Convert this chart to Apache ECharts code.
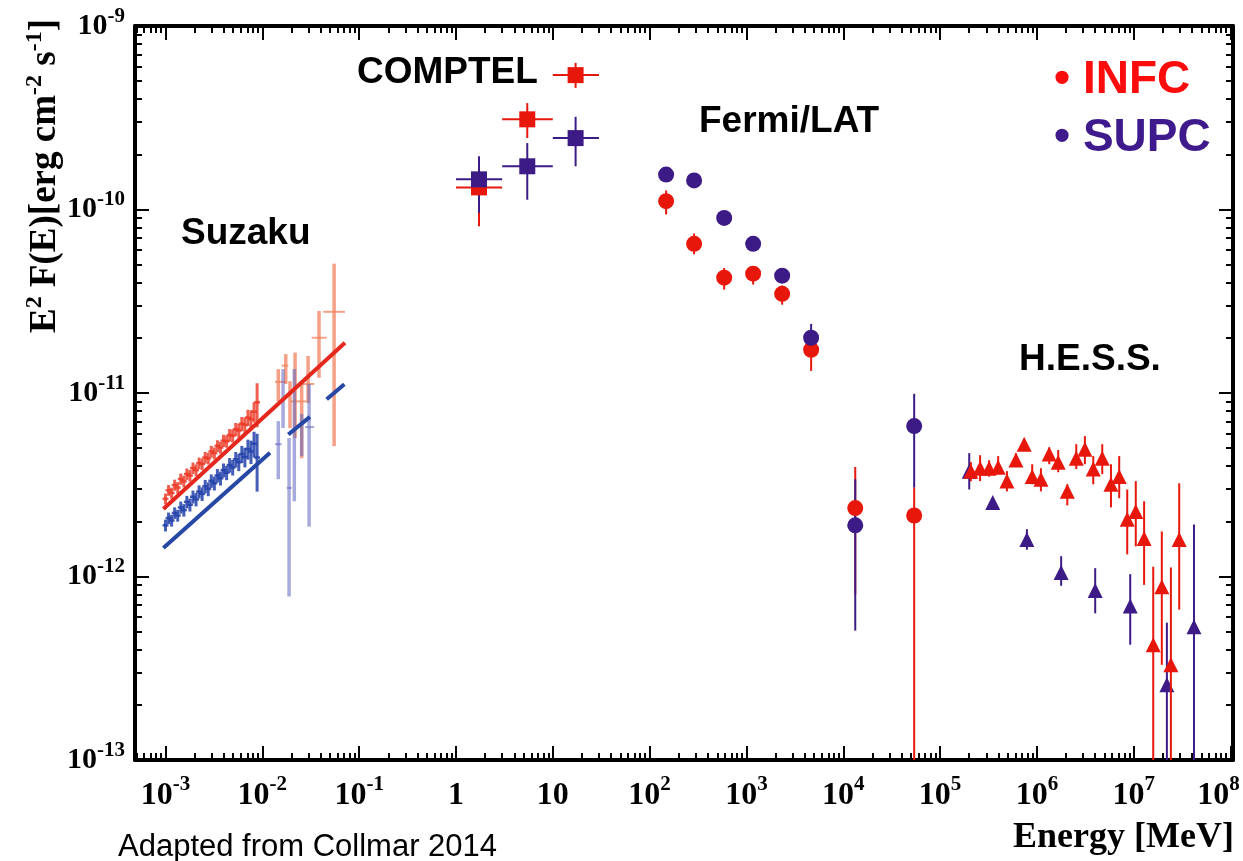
<!DOCTYPE html>
<html><head><meta charset="utf-8">
<script src="https://cdn.jsdelivr.net/npm/echarts@6/dist/echarts.min.js"></script>
<style>html,body{margin:0;padding:0;background:#fff}#c{width:1243px;height:861px}</style>
</head><body><div id="c"></div>
<script>
// ---------------- axes ----------------
const xTickValues = [1e-3, 1e-2, 1e-1, 1, 10, 100, 1e3, 1e4, 1e5, 1e6, 1e7, 1e8];
const xTickLabels = ['10^-3', '10^-2', '10^-1', '1', '10', '10^2', '10^3', '10^4', '10^5', '10^6', '10^7', '10^8'];
const yTickValues = [1e-13, 1e-12, 1e-11, 1e-10, 1e-9];
const yTickLabels = ['10^-13', '10^-12', '10^-11', '10^-10', '10^-9'];

// ---------------- Suzaku XIS (1-9 keV) ----------------
const xisE = [1.000e-3, 1.075e-3, 1.156e-3, 1.243e-3, 1.337e-3, 1.438e-3, 1.546e-3, 1.662e-3, 1.787e-3, 1.922e-3,
  2.067e-3, 2.222e-3, 2.390e-3, 2.570e-3, 2.763e-3, 2.971e-3, 3.195e-3, 3.436e-3, 3.694e-3, 3.972e-3,
  4.272e-3, 4.593e-3, 4.939e-3, 5.311e-3, 5.711e-3, 6.141e-3, 6.603e-3, 7.100e-3, 7.635e-3, 8.210e-3, 8.830e-3];
const xisInfc = [2.65, 2.95, 2.85, 3.15, 3.05, 3.40, 3.30, 3.62, 3.55, 3.90, 3.80, 4.15, 4.10, 4.45, 4.40, 4.80,
  4.70, 5.15, 5.05, 5.50, 5.45, 5.90, 5.85, 6.35, 6.25, 6.80, 6.70, 7.35, 7.20, 7.90, 8.90].map(v => v * 1e-12);
const xisInfcErr = [0.18, 0.2, 0.2, 0.22, 0.22, 0.24, 0.24, 0.26, 0.26, 0.28, 0.28, 0.3, 0.3, 0.32, 0.32, 0.35,
  0.35, 0.38, 0.38, 0.42, 0.42, 0.46, 0.48, 0.52, 0.55, 0.6, 0.65, 0.75, 0.85, 1.0, 2.4].map(v => v * 1e-12);
const xisSupc = [1.90, 2.08, 2.02, 2.22, 2.15, 2.38, 2.30, 2.55, 2.46, 2.72, 2.63, 2.90, 2.82, 3.10, 3.00, 3.32,
  3.22, 3.55, 3.43, 3.80, 3.68, 4.05, 3.93, 4.35, 4.20, 4.65, 4.48, 4.95, 4.80, 5.30, 4.45].map(v => v * 1e-12);
const xisSupcErr = [0.14, 0.15, 0.15, 0.16, 0.16, 0.18, 0.18, 0.2, 0.2, 0.22, 0.22, 0.24, 0.24, 0.26, 0.26, 0.28,
  0.28, 0.3, 0.3, 0.33, 0.33, 0.37, 0.38, 0.42, 0.45, 0.5, 0.55, 0.62, 0.7, 0.85, 1.55].map(v => v * 1e-12);

// ---------------- Suzaku HXD/PIN ----------------
const pinInfcE   = [0.01462, 0.01745, 0.0193, 0.0218, 0.0255, 0.0297, 0.0385, 0.0551];
const pinInfcElo = [0.01352, 0.01585, 0.0193, 0.01932, 0.0255, 0.0255, 0.0323, 0.0426];
const pinInfcEhi = [0.01786, 0.01855, 0.0193, 0.0287, 0.0255, 0.0344, 0.0462, 0.0714];
const pinInfcF   = [1.15e-11, 1.41e-11, 9.0e-12, 9.0e-12, 7.03e-12, 1.12e-11, 2.0e-11, 2.77e-11];
const pinInfcFlo = [9.0e-12, 1.12e-11, 6.44e-12, 5.68e-12, 4.41e-12, 8.81e-12, 1.21e-11, 5.13e-12];
const pinInfcFhi = [1.35e-11, 1.63e-11, 1.16e-11, 1.66e-11, 1.12e-11, 1.59e-11, 2.8e-11, 5.07e-11];
const pinSupcE   = [0.01462, 0.01637, 0.01888, 0.0214, 0.0255, 0.0304];
const pinSupcElo = [0.01352, 0.01637, 0.01786, 0.0214, 0.0255, 0.0276];
const pinSupcEhi = [0.01585, 0.01637, 0.0201, 0.0214, 0.0255, 0.0344];
const pinSupcF   = [5.26e-12, 9.64e-12, 3.04e-12, 7.03e-12, 6.44e-12, 6.52e-12];
const pinSupcFlo = [3.39e-12, 6.44e-12, 7.78e-13, 2.57e-12, 4.53e-12, 1.87e-12];
const pinSupcFhi = [7.03e-12, 1.35e-11, 5.68e-12, 1.35e-11, 7.67e-12, 1.12e-11];

// ---------------- Suzaku model (power laws) ----------------
const modelInfcE = [9.5e-4, 0.0714];
const modelInfcF = [2.33e-12, 1.88e-11];
const modelSupcE = [9.5e-4, 0.0120, null, 0.01854, 0.0310, null, 0.0462, 0.0703];
const modelSupcF = [1.43e-12, 4.72e-12, null, 5.94e-12, 7.41e-12, null, 9.25e-12, 1.115e-11];

// ---------------- COMPTEL ----------------
const comptelE   = [1.73, 5.45, 17.2];
const comptelElo = [1.0, 3.0, 10.0];
const comptelEhi = [3.0, 10.0, 30.0];
const comptelInfc   = [1.32e-10, 3.1e-10, 5.4e-10];
const comptelInfcLo = [8.1e-11, 2.45e-10, 4.6e-10];
const comptelInfcHi = [1.8e-10, 3.8e-10, 6.3e-10];
const comptelSupc   = [1.46e-10, 1.72e-10, 2.45e-10];
const comptelSupcLo = [9.6e-11, 1.13e-10, 1.72e-10];
const comptelSupcHi = [1.95e-10, 2.3e-10, 3.2e-10];

// ---------------- Fermi/LAT ----------------
const fermiE = [148, 288, 589, 1173, 2338, 4656, 1.33e4, 5.4e4];
const fermiInfc   = [1.11e-10, 6.5e-11, 4.25e-11, 4.47e-11, 3.47e-11, 1.72e-11, 2.36e-12, 2.15e-12];
const fermiInfcLo = [9.4e-11, 5.7e-11, 3.66e-11, 3.9e-11, 3.03e-11, 1.32e-11, 8.0e-13, 1e-15];
const fermiInfcHi = [1.27e-10, 7.4e-11, 4.8e-11, 4.9e-11, 3.85e-11, 1.92e-11, 3.95e-12, 3.06e-12];
const fermiSupc   = [1.55e-10, 1.44e-10, 9.0e-11, 6.5e-11, 4.36e-11, 2.0e-11, 1.9e-12, 6.6e-12];
const fermiSupcLo = [1.5e-10, 1.39e-10, 8.6e-11, 6.2e-11, 4.15e-11, 1.7e-11, 5.07e-13, 3.06e-12];
const fermiSupcHi = [1.6e-10, 1.49e-10, 9.4e-11, 6.8e-11, 4.55e-11, 2.38e-11, 3.39e-12, 9.9e-12];

// ---------------- H.E.S.S. ----------------
const hessInfcE = [2.08e5, 2.59e5, 3.21e5, 3.98e5, 4.90e5, 6.07e5, 7.39e5, 8.94e5, 1.10e6, 1.34e6, 1.66e6, 2.06e6,
  2.55e6, 3.13e6, 3.82e6, 4.73e6, 5.82e6, 7.08e6, 8.57e6, 1.05e7, 1.28e7, 1.59e7, 1.95e7, 2.42e7, 2.95e7];
const hessInfcF = [3.75e-12, 3.89e-12, 3.89e-12, 3.94e-12, 3.31e-12, 4.31e-12, 5.26e-12, 3.51e-12, 3.39e-12, 4.65e-12,
  4.2e-12, 2.91e-12, 4.41e-12, 4.94e-12, 3.85e-12, 4.41e-12, 3.18e-12, 3.51e-12, 2.05e-12, 2.26e-12, 1.61e-12,
  4.25e-13, 8.8e-13, 3.3e-13, 1.59e-12];
const hessInfcLo = [3.3e-12, 3.31e-12, 3.5e-12, 3.61e-12, 2.91e-12, 4.04e-12, 5.0e-12, 3.18e-12, 2.91e-12, 4.09e-12,
  3.7e-12, 2.44e-12, 3.85e-12, 4.09e-12, 3.18e-12, 3.61e-12, 2.38e-12, 2.67e-12, 1.32e-12, 1.46e-12, 9.0e-13,
  1e-15, 3.3e-13, 1e-15, 6.6e-13];
const hessInfcHi = [4.2e-12, 4.58e-12, 4.3e-12, 4.53e-12, 3.75e-12, 4.7e-12, 5.5e-12, 4.09e-12, 3.89e-12, 5.05e-12,
  4.89e-12, 3.18e-12, 5.26e-12, 5.82e-12, 4.53e-12, 5.26e-12, 4.09e-12, 4.53e-12, 2.98e-12, 3.31e-12, 2.57e-12,
  1.13e-12, 1.76e-12, 1.12e-12, 3.22e-12];
const hessSupcE  = [2.0e5, 3.5e5, 7.88e5, 1.78e6, 4.0e6, 9.2e6, 2.2e7, 4.19e7];
const hessSupcF  = [3.75e-12, 2.53e-12, 1.59e-12, 1.05e-12, 8.4e-13, 6.9e-13, 2.57e-13, 5.33e-13];
const hessSupcLo = [2.98e-12, 2.45e-12, 1.40e-12, 8.9e-13, 6.3e-13, 4.25e-13, 1e-15, 1e-15];
const hessSupcHi = [4.7e-12, 2.62e-12, 1.81e-12, 1.29e-12, 1.11e-12, 1.03e-12, 5.6e-13, 1.92e-12];

// ---------------- styling ----------------
const X_MIN = 4.84e-4, X_MAX = 1.06e8, Y_MIN = 0.9999e-13, Y_MAX = 1.0001e-9;
const RED = '#e8170c', PURPLE = '#3c1b87';
const SERIF = '"Liberation Serif", "Times New Roman", serif';
const SANS = '"Liberation Sans", Arial, sans-serif';

function minorValues(lo, hi, e0, e1) {
  const out = [];
  for (let e = e0; e <= e1; e++) for (let k = 2; k <= 9; k++) {
    const v = Number((k * Math.pow(10, e)).toPrecision(6));
    if (v >= lo && v <= hi) out.push(v);
  }
  return out;
}
const xMinor = minorValues(X_MIN, X_MAX, -4, 8);
const yMinor = minorValues(Y_MIN, Y_MAX, -14, -10);

function richLabel(vals, labels, extraLast) {
  return function (value) {
    let idx = 0, best = Infinity;
    vals.forEach((v, i) => { const d = Math.abs(Math.log10(v) - Math.log10(value)); if (d < best) { best = d; idx = i; } });
    const parts = labels[idx].split('^');
    let s = '{b|' + parts[0] + '}' + (parts.length > 1 ? '{s|' + parts[1] + '}' : '');
    if (extraLast && idx === vals.length - 1) s += '{p|}';
    return s;
  };
}

function xAxisDef(pos, major, withLabels) {
  return {
    type: 'log', position: pos, min: X_MIN, max: X_MAX, logBase: 10,
    axisLine: { show: major, onZero: false, lineStyle: { color: '#000', width: 4 } },
    axisTick: { show: true, inside: true, length: major ? 14 : 7, customValues: major ? xTickValues : xMinor,
      lineStyle: { color: '#000', width: 2 } },
    axisLabel: withLabels ? {
      show: true, customValues: xTickValues, margin: 14, color: '#000',
      formatter: richLabel(xTickValues, xTickLabels, true),
      rich: {
        b: { fontFamily: SERIF, fontWeight: 'bold', fontSize: 32, lineHeight: 44, color: '#000' },
        s: { fontFamily: SERIF, fontWeight: 'bold', fontSize: 21, lineHeight: 18, verticalAlign: 'top', color: '#000' },
        p: { width: 24 }
      }
    } : { show: false },
    splitLine: { show: false }, minorTick: { show: false }, minorSplitLine: { show: false }
  };
}
function yAxisDef(pos, major, withLabels) {
  return {
    type: 'log', position: pos, min: Y_MIN, max: Y_MAX, logBase: 10,
    axisLine: { show: major, onZero: false, lineStyle: { color: '#000', width: 4 } },
    axisTick: { show: true, inside: true, length: major ? 14 : 7, customValues: major ? yTickValues : yMinor,
      lineStyle: { color: '#000', width: 2 } },
    axisLabel: withLabels ? {
      show: true, customValues: yTickValues, margin: 10, color: '#000', align: 'right',
      formatter: richLabel(yTickValues, yTickLabels, false),
      rich: {
        b: { fontFamily: SERIF, fontWeight: 'bold', fontSize: 30, lineHeight: 40, color: '#000' },
        s: { fontFamily: SERIF, fontWeight: 'bold', fontSize: 21, lineHeight: 18, verticalAlign: 'top', color: '#000' }
      }
    } : { show: false },
    splitLine: { show: false }, minorTick: { show: false }, minorSplitLine: { show: false }
  };
}

// error bar series: rows [x, y, xlo, xhi, ylo, yhi]
function errSeries(rows, color, lw, dashPx, z) {
  return {
    type: 'custom', xAxisIndex: 0, yAxisIndex: 0, silent: true, z: z || 2, clip: true,
    dimensions: ['x', 'y', 'xl', 'xh', 'yl', 'yh'], encode: { x: 0, y: 1 },
    data: rows,
    renderItem: function (params, api) {
      const x = api.value(0), y = api.value(1);
      const xl = api.value(2), xh = api.value(3);
      const yl = Math.max(api.value(4), Y_MIN), yh = Math.min(api.value(5), Y_MAX);
      const c = api.coord([x, y]);
      const ch = [];
      const a = api.coord([x, yl]), b = api.coord([x, yh]);
      if (Math.abs(a[1] - b[1]) > 0.5)
        ch.push({ type: 'line', shape: { x1: c[0], y1: a[1], x2: c[0], y2: b[1] }, style: { stroke: color, lineWidth: lw } });
      if (xh > xl) {
        const l = api.coord([xl, y]), r = api.coord([xh, y]);
        ch.push({ type: 'line', shape: { x1: l[0], y1: c[1], x2: r[0], y2: c[1] }, style: { stroke: color, lineWidth: Math.min(lw, 2) } });
      } else if (dashPx) {
        ch.push({ type: 'line', shape: { x1: c[0] - dashPx, y1: c[1], x2: c[0] + dashPx, y2: c[1] }, style: { stroke: color, lineWidth: 2.5 } });
      }
      return { type: 'group', children: ch };
    }
  };
}
function rows(E, F, Elo, Ehi, Flo, Fhi) {
  return E.map((e, i) => [e, F[i], Elo ? Elo[i] : e, Ehi ? Ehi[i] : e, Flo[i], Fhi[i]]);
}
function pts(E, F) { return E.map((e, i) => [e, F[i]]); }
function scatter(E, F, symbol, size, color, z) {
  return { type: 'scatter', xAxisIndex: 0, yAxisIndex: 0, data: pts(E, F), symbol: symbol, symbolSize: size,
    itemStyle: { color: color, opacity: 1 }, silent: true, z: z || 3 };
}
function modelSegments(E, F, color) {
  const segs = []; let cur = [];
  E.forEach((e, i) => { if (e === null) { segs.push(cur); cur = []; } else cur.push([e, F[i]]); });
  segs.push(cur);
  return segs.map(s => ({ type: 'line', xAxisIndex: 0, yAxisIndex: 0, data: s, showSymbol: false, symbol: 'none',
    lineStyle: { color: color, width: 4 }, silent: true, z: 2 }));
}

const series = [];
// Suzaku PIN (light)
series.push(errSeries(rows(pinInfcE, pinInfcF, pinInfcElo, pinInfcEhi, pinInfcFlo, pinInfcFhi), 'rgba(240,130,95,0.75)', 3.5, 0, 1));
series.push(errSeries(rows(pinSupcE, pinSupcF, pinSupcElo, pinSupcEhi, pinSupcFlo, pinSupcFhi), 'rgba(95,100,190,0.55)', 3.5, 0, 1));
// Suzaku XIS
series.push(errSeries(rows(xisE, xisInfc, null, null, xisInfc.map((v, i) => v - xisInfcErr[i]), xisInfc.map((v, i) => v + xisInfcErr[i])), 'rgba(235,55,35,0.8)', 3, 3, 1));
series.push(errSeries(rows(xisE, xisSupc, null, null, xisSupc.map((v, i) => v - xisSupcErr[i]), xisSupc.map((v, i) => v + xisSupcErr[i])), 'rgba(35,65,170,0.85)', 3, 3, 1));
// models
series.push(...modelSegments(modelInfcE, modelInfcF, '#e5281d'));
series.push(...modelSegments(modelSupcE, modelSupcF, '#2747a5'));
// H.E.S.S.
series.push(errSeries(rows(hessSupcE, hessSupcF, null, null, hessSupcLo, hessSupcHi), PURPLE, 2, 0, 2));
series.push(scatter(hessSupcE, hessSupcF, 'triangle', [15, 15], PURPLE, 3));
series.push(errSeries(rows(hessInfcE, hessInfcF, null, null, hessInfcLo, hessInfcHi), RED, 2, 0, 4));
series.push(scatter(hessInfcE, hessInfcF, 'triangle', [15, 15], RED, 5));
// COMPTEL + Fermi
series.push(errSeries(rows(comptelE, comptelInfc, comptelElo, comptelEhi, comptelInfcLo, comptelInfcHi), RED, 2, 0, 2));
series.push(errSeries(rows(comptelE, comptelSupc, comptelElo, comptelEhi, comptelSupcLo, comptelSupcHi), PURPLE, 2, 0, 2));
series.push(errSeries(rows(fermiE, fermiInfc, null, null, fermiInfcLo, fermiInfcHi), RED, 2, 0, 2));
series.push(errSeries(rows(fermiE, fermiSupc, null, null, fermiSupcLo, fermiSupcHi), PURPLE, 2, 0, 2));
series.push(scatter(comptelE, comptelInfc, 'rect', 16, RED, 3));
series.push(scatter(fermiE, fermiInfc, 'circle', 16, RED, 3));
series.push(scatter(comptelE, comptelSupc, 'rect', 16, PURPLE, 4));
series.push(scatter(fermiE, fermiSupc, 'circle', 16, PURPLE, 4));

const chart = echarts.init(document.getElementById('c'), null, { renderer: 'canvas' });
chart.setOption({
  animation: false,
  backgroundColor: '#fff',
  grid: { left: 135, right: 10, top: 26, bottom: 101, containLabel: false, outerBoundsMode: 'none' },
  xAxis: [xAxisDef('bottom', true, true), xAxisDef('bottom', false, false), xAxisDef('top', true, false), xAxisDef('top', false, false)],
  yAxis: [yAxisDef('left', true, true), yAxisDef('left', false, false), yAxisDef('right', true, false), yAxisDef('right', false, false)],
  series: series,
  graphic: [
    { type: 'text', x: 45, y: 176, rotation: Math.PI / 2, silent: true,
      style: { text: '{b|E}{s|2}{b| F(E)[erg cm}{s|-2}{b| s}{s|-1}{b|]}', align: 'center', verticalAlign: 'middle',
        rich: { b: { fontFamily: SERIF, fontWeight: 'bold', fontSize: 37, lineHeight: 44, fill: '#000' },
                s: { fontFamily: SERIF, fontWeight: 'bold', fontSize: 24, lineHeight: 22, verticalAlign: 'top', fill: '#000' } } } },
    { type: 'text', x: 1234, y: 838, silent: true,
      style: { text: 'Energy [MeV]', font: 'bold 36px ' + SERIF, fill: '#000', align: 'right', verticalAlign: 'middle' } },
    { type: 'text', x: 118, y: 847, silent: true,
      style: { text: 'Adapted from Collmar 2014', font: '31px ' + SANS, fill: '#000', align: 'left', verticalAlign: 'middle' } },
    { type: 'text', x: 357, y: 73, silent: true,
      style: { text: 'COMPTEL', font: 'bold 37px ' + SANS, fill: '#000', align: 'left', verticalAlign: 'middle' } },
    { type: 'text', x: 699, y: 122, silent: true,
      style: { text: 'Fermi/LAT', font: 'bold 37px ' + SANS, fill: '#000', align: 'left', verticalAlign: 'middle' } },
    { type: 'text', x: 181, y: 234, silent: true,
      style: { text: 'Suzaku', font: 'bold 37px ' + SANS, fill: '#000', align: 'left', verticalAlign: 'middle' } },
    { type: 'text', x: 1019, y: 360, silent: true,
      style: { text: 'H.E.S.S.', font: 'bold 37px ' + SANS, fill: '#000', align: 'left', verticalAlign: 'middle' } },
    { type: 'text', x: 1054, y: 80, silent: true,
      style: { text: '• INFC', font: 'bold 46px ' + SANS, fill: '#fb0d0d', align: 'left', verticalAlign: 'middle' } },
    { type: 'text', x: 1054, y: 138, silent: true,
      style: { text: '• SUPC', font: 'bold 46px ' + SANS, fill: '#3e1a8c', align: 'left', verticalAlign: 'middle' } }
  ]
});
</script></body></html>
